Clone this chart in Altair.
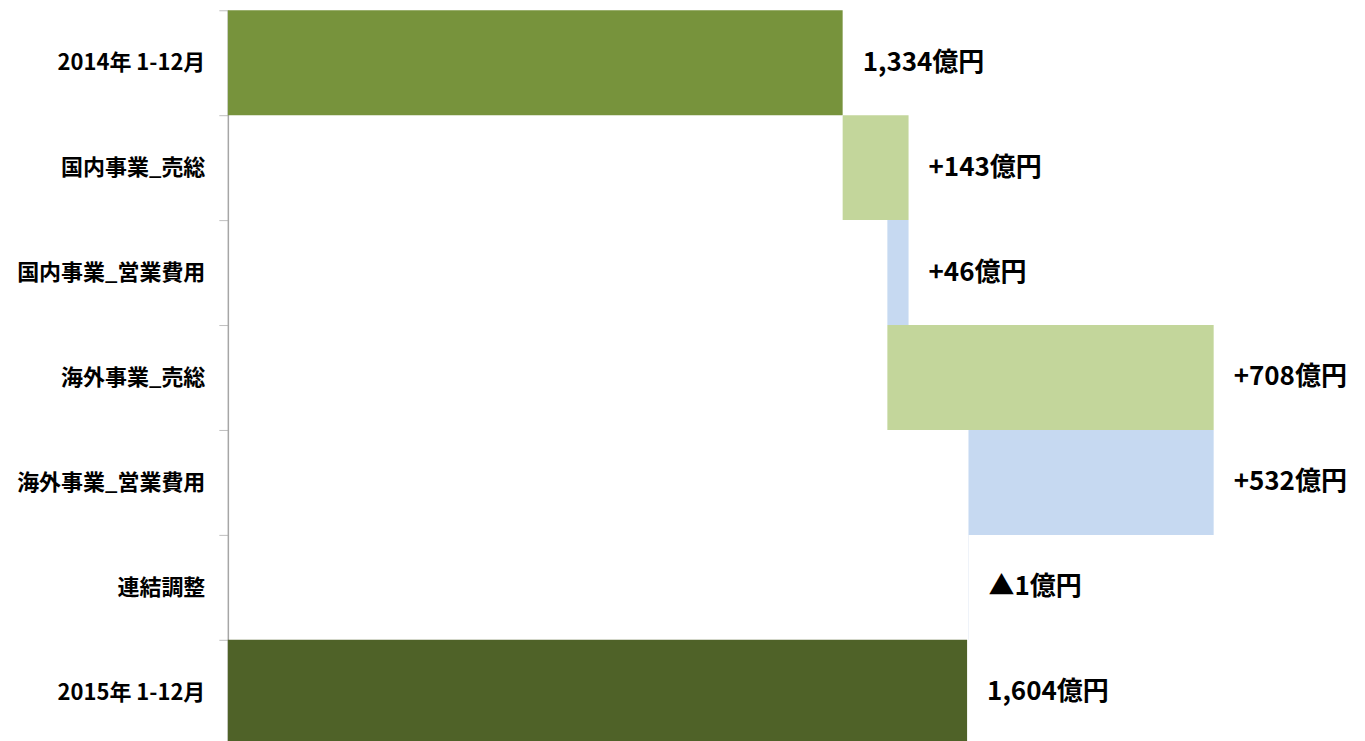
import altair as alt
import pandas as pd

categories = ["2014年 1-12月", "国内事業_売総", "国内事業_営業費用", "海外事業_売総",
              "海外事業_営業費用", "連結調整", "2015年 1-12月"]
values = [1334, 143, -46, 708, -532, -1, 1604]
kinds = ["total", "delta", "delta", "delta", "delta", "delta", "total"]
value_labels = ["1,334億円", "+143億円", "+46億円", "+708億円", "+532億円", "▲1億円", "1,604億円"]
bar_colors = ["#77933C", "#C3D69B", "#C6D9F1", "#C3D69B", "#C6D9F1", "#DCE6F2", "#4F6228"]

rows = []
running = 0
for cat, v, k, lab, col in zip(categories, values, kinds, value_labels, bar_colors):
    if k == "total":
        start, end = 0, v
        running = v
    else:
        start, end = running, running + v
        running = end
    rows.append({"cat": cat, "start": start, "end": end, "label": lab,
                 "color": col, "right": max(start, end)})
df = pd.DataFrame(rows)

FONT = "Noto Sans CJK JP"

y_axis = alt.Axis(labelFont=FONT, labelFontSize=22, labelFontWeight="bold",
                  labelColor="#000000", labelPadding=14, grid=False,
                  tickBand="extent", tickSize=9, tickColor="#BFBFBF",
                  domainColor="#A6A6A6", domainWidth=1.5, labelLimit=300)
y_scale = alt.Scale(paddingInner=0, paddingOuter=0)
x_scale = alt.Scale(domain=[0, 2450], nice=False, zero=True)

bars = alt.Chart(df).mark_bar(strokeWidth=0).encode(
    y=alt.Y("cat:N", sort=categories, title=None, scale=y_scale, axis=y_axis),
    x=alt.X("start:Q", scale=x_scale, axis=None),
    x2="end:Q",
    color=alt.Color("color:N", scale=None),
)

texts = alt.Chart(df).mark_text(
    align="left", baseline="middle", dx=20, font=FONT, fontSize=26,
    fontWeight="bold", color="#000000"
).encode(
    y=alt.Y("cat:N", sort=categories, title=None, scale=y_scale, axis=y_axis),
    x=alt.X("right:Q", scale=x_scale, axis=None),
    text="label:N",
)

chart = alt.layer(bars, texts).properties(
    width=1130, height=735,
    autosize=alt.AutoSizeParams(type="none"),
    padding={"left": 220, "top": 2, "right": 0, "bottom": 0},
    background="#FFFFFF",
).configure_view(stroke=None)

chart.save("out.html", embed_options={"renderer": "svg", "actions": False})
